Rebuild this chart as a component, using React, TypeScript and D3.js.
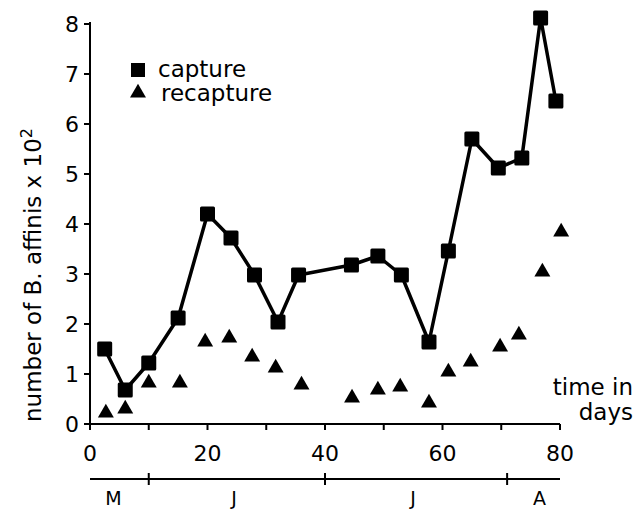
import * as d3 from "d3"

// days and values
const captureDays = [2.5, 6, 10, 15, 20, 24, 28, 32, 35.5, 44.5, 49, 53, 57.7, 61, 65, 69.5, 73.5, 76.7, 79.3]
const captureVals = [1.5, 0.68, 1.22, 2.12, 4.2, 3.72, 2.98, 2.04, 2.98, 3.18, 3.36, 2.98, 1.64, 3.46, 5.7, 5.12, 5.32, 8.12, 6.46]
const recaptureDays = [2.7, 6, 10, 15.3, 19.6, 23.7, 27.6, 31.6, 36, 44.6, 49, 52.8, 57.7, 61, 64.8, 69.8, 73, 77, 80.2]
const recaptureVals = [0.22, 0.3, 0.82, 0.82, 1.64, 1.72, 1.34, 1.12, 0.78, 0.52, 0.68, 0.74, 0.42, 1.04, 1.24, 1.54, 1.78, 3.04, 3.84]
const yTicks = [0, 1, 2, 3, 4, 5, 6, 7, 8]
const xTicks = [0, 10, 20, 30, 40, 50, 60, 70, 80]
const xLabels = [0, 20, 40, 60, 80]
const monthBounds = [10, 40, 71]
const months = [{ name: "M", day: 4 }, { name: "J", day: 24.5 }, { name: "J", day: 55 }, { name: "A", day: 76.5 }]

const FONT = "'DejaVu Sans', sans-serif"

export default function App() {
  const width = 634
  const height = 510
  const x = d3.scaleLinear().domain([0, 80]).range([90, 560])
  const y = d3.scaleLinear().domain([0, 8]).range([424, 24])
  const line = d3.line<number>()
    .x((d, i) => x(captureDays[i]))
    .y(d => y(d))
  const tri = d3.symbol().type(d3.symbolTriangle).size(110)
  const monthY = 479

  return (
    <svg width={width} height={height} style={{ position: "absolute", left: 0, top: 0 }}
      fontFamily={FONT}>
      <rect width={width} height={height} fill="#fff" />
      {/* y axis */}
      <line x1={x(0)} x2={x(0)} y1={y(0) + 1} y2={y(8) - 2} stroke="#000" strokeWidth={2} />
      {yTicks.map(t => (
        <g key={t}>
          <line x1={x(0) - 6} x2={x(0)} y1={y(t)} y2={y(t)} stroke="#000" strokeWidth={2} />
          <text x={x(0) - 11} y={y(t) + 8} textAnchor="end" fontSize={22}>{t}</text>
        </g>
      ))}
      {/* x axis */}
      <line x1={x(0)} x2={x(80)} y1={y(0)} y2={y(0)} stroke="#000" strokeWidth={2} />
      {xTicks.map(t => (
        <line key={t} x1={x(t)} x2={x(t)} y1={y(0)} y2={y(0) + 6} stroke="#000" strokeWidth={2} />
      ))}
      {xLabels.map(t => (
        <text key={t} x={x(t)} y={461} textAnchor="middle" fontSize={22}>{t}</text>
      ))}
      {/* month bar */}
      <line x1={x(0)} x2={x(80)} y1={monthY} y2={monthY} stroke="#000" strokeWidth={2} />
      {monthBounds.map(d => (
        <line key={d} x1={x(d)} x2={x(d)} y1={monthY - 6} y2={monthY + 6} stroke="#000" strokeWidth={2} />
      ))}
      {months.map((m, i) => (
        <text key={i} x={x(m.day)} y={505} textAnchor="middle" fontSize={19}>{m.name}</text>
      ))}
      {/* y label */}
      <text transform={`translate(41,${275}) rotate(-90)`} textAnchor="middle" fontSize={23}>
        number of B. affinis x 10<tspan dy={-9} fontSize={16}>2</tspan>
      </text>
      {/* time in days */}
      <text x={633} y={395} textAnchor="end" fontSize={23}>time in</text>
      <text x={633} y={420} textAnchor="end" fontSize={23}>days</text>
      {/* capture */}
      <path d={line(captureVals) ?? ""} fill="none" stroke="#000" strokeWidth={3.5} strokeLinejoin="round" />
      {captureVals.map((v, i) => (
        <rect key={i} x={x(captureDays[i]) - 7.5} y={y(v) - 7.5} width={15} height={15} rx={1.5} fill="#000" />
      ))}
      {/* recapture */}
      {recaptureVals.map((v, i) => (
        <path key={i} d={tri() ?? ""} transform={`translate(${x(recaptureDays[i])},${y(v)})`} fill="#000" />
      ))}
      {/* legend */}
      <rect x={131} y={63} width={14} height={14} fill="#000" />
      <text x={158} y={77} fontSize={23}>capture</text>
      <path d={tri() ?? ""} transform="translate(138,93)" fill="#000" />
      <text x={161} y={101} fontSize={23}>recapture</text>
    </svg>
  )
}
